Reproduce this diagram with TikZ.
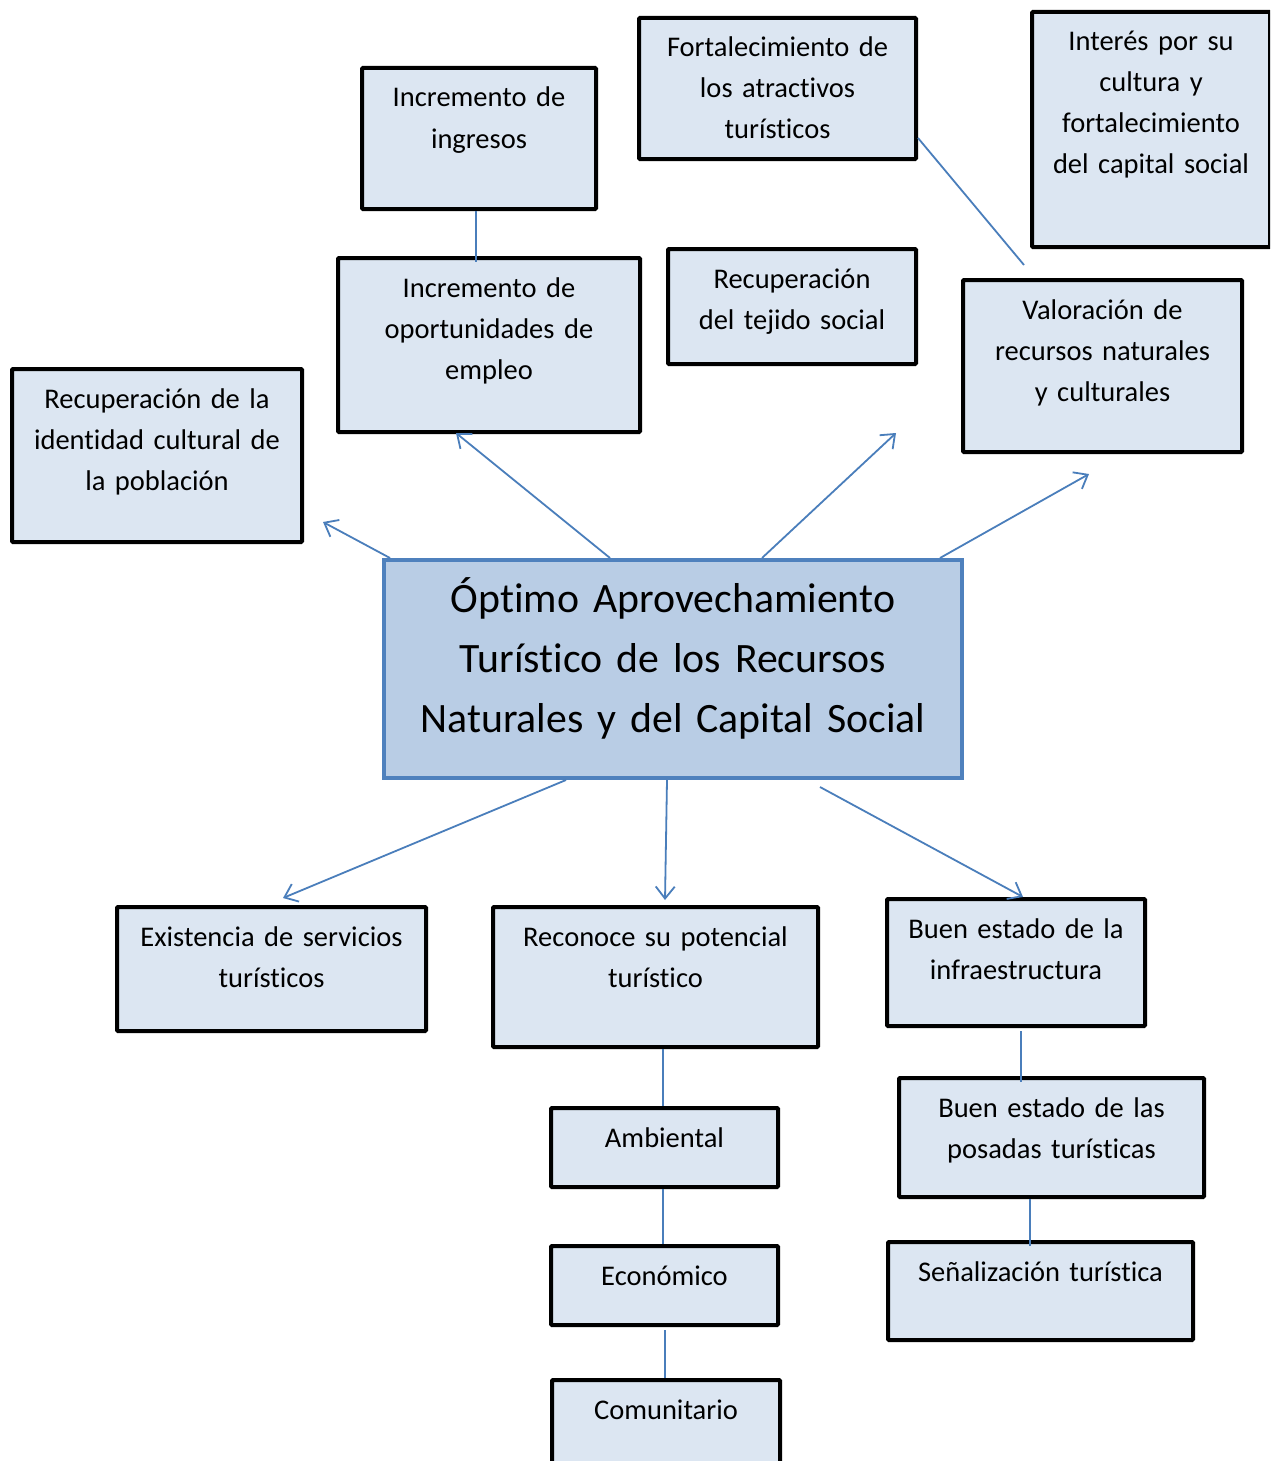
\documentclass[tikz,border=0pt]{standalone}
\usepackage{fontspec}
\setmainfont{Carlito}[Ligatures=NoCommon]
\usetikzlibrary{arrows.meta,fit,calc}
\definecolor{boxfill}{HTML}{DCE6F2}
\definecolor{mainfill}{HTML}{B9CDE5}
\definecolor{mainedge}{HTML}{4F81BD}
\definecolor{conncol}{HTML}{4A7EBB}
\tikzset{
  box/.style={draw=black, line width=4pt, fill=boxfill, inner sep=0pt, rectangle, rounded corners=1pt},
  mainbox/.style={draw=mainedge, line width=4pt, fill=mainfill, inner sep=0pt, rectangle},
  txt/.style={font=\fontsize{28.5}{41}\selectfont, align=center, anchor=base, inner sep=0pt, text width=400pt},
  maintxt/.style={font=\fontsize{41.8}{60}\selectfont, align=center, anchor=base, inner sep=0pt, text width=700pt},
  conn/.style={draw=conncol, line width=1.8pt},
  arr/.style={conn, -{Straight Barb[length=12pt,width=19pt,line width=1.8pt]}},
}
\newcommand\mybox[6]{%
  \coordinate (#1-a) at (#2+2,#3+2);
  \coordinate (#1-b) at (#4-2,#5-2);
  \node[box, fit=(#1-a)(#1-b)] (#1) {};
  \node[txt] (#1-t) at ($(#1.north)+(0,41)$) {#6};
}
\begin{document}
\begin{tikzpicture}[x=1pt,y=-1pt]
\useasboundingbox (0,0) rectangle (1270,1461);
\clip (0,0) rectangle (1270,1461);
\fill[white] (0,0) rectangle (1270,1461);

\mybox{b1}{360}{66}{598}{211}{Incremento de\\ingresos}
\mybox{b2}{637}{16}{918}{161}{Fortalecimiento de\\los atractivos\\turísticos}
\mybox{b3}{1030}{10}{1272}{249}{Interés por su\\cultura y\\fortalecimiento\\del capital social}
\mybox{b4}{336}{256}{642}{434}{Incremento de\\oportunidades de\\empleo}
\mybox{b5}{666}{247}{918}{366}{Recuperación\\del tejido social}
\mybox{b6}{961}{278}{1244}{454}{Valoración de\\recursos naturales\\y culturales}
\mybox{b7}{10}{367}{304}{544}{Recuperación de la\\identidad cultural de\\la población}
\mybox{b9}{115}{905}{428}{1033}{Existencia de servicios\\turísticos}
\mybox{b10}{491}{905}{820}{1049}{Reconoce su potencial\\turístico}
\mybox{b11}{885}{897}{1147}{1028}{Buen estado de la\\infraestructura}
\mybox{b12}{549}{1106}{780}{1189}{Ambiental}
\mybox{b13}{897}{1076}{1206}{1199}{Buen estado de las\\posadas turísticas}
\mybox{b14}{549}{1244}{780}{1327}{Económico}
\mybox{b15}{886}{1240}{1195}{1342}{Señalización turística}
\mybox{b16}{550}{1378}{782}{1480}{Comunitario}

% central node
\coordinate (c-a) at (384,560);
\coordinate (c-b) at (962,778);
\node[mainbox, fit=(c-a)(c-b)] (c) {};
\node[maintxt] (c-t) at ($(c.north)+(0,54)$) {Óptimo Aprovechamiento\\Turístico de los Recursos\\Naturales y del Capital Social};

% arrows from the central node
\coordinate (e1) at (323,522);
\coordinate (e2) at (456,433);
\coordinate (e3) at (896,433);
\coordinate (e4) at (1089,474);
\coordinate (e5) at (283,898);
\coordinate (e6) at (665,900);
\coordinate (e7) at (1023,897);
\draw[arr] (c.north -| 390,0) -- (e1);
\draw[arr] (c.north -| 610,0) -- (e2);
\draw[arr] (c.north -| 762,0) -- (e3);
\draw[arr] (c.north -| 940,0) -- (e4);
\draw[arr] (c.south -| 566,0) -- (e5);
\draw[arr] (c.south -| 667,0) -- (e6);
\draw[arr] ($(c.south -| 820,0)+(0,7)$) -- (e7);

% plain connectors
\coordinate (f1) at (1024,265);
\draw[conn] (b1.south -| 476,0) -- ($(b4.north -| 476,0)+(0,6)$);
\draw[conn] (b2.east |- 0,138) -- (f1);
\draw[conn] (b10.south -| 663,0) -- (b12.north -| 663,0);
\draw[conn] (b12.south -| 663,0) -- (b14.north -| 663,0);
\draw[conn] ($(b14.south -| 665,0)+(0,3)$) -- (b16.north -| 665,0);
\draw[conn] ($(b11.south -| 1021,0)+(0,3)$) -- ($(b13.north -| 1021,0)+(0,6)$);
\draw[conn] (b13.south -| 1030,0) -- ($(b15.north -| 1030,0)+(0,6)$);
\end{tikzpicture}
\end{document}
